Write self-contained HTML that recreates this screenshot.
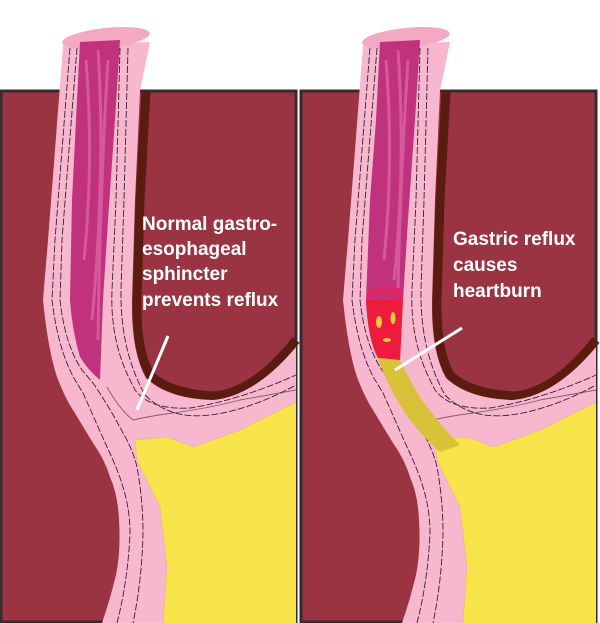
<!DOCTYPE html>
<html><head><style>
html,body{margin:0;padding:0;background:#fff;}
svg{display:block}
.t{font-family:"Liberation Sans",Arial,sans-serif;font-weight:bold;font-size:19px;fill:#fff;}
</style></head><body>
<svg width="600" height="623" viewBox="0 0 600 623" xmlns="http://www.w3.org/2000/svg">
<defs>
<g id="panel">
  <rect x="1" y="91" width="295" height="531" fill="#9b3442" stroke="#3a2a2a" stroke-width="3"/>
  <!-- yellow stomach -->
  <path d="M135,440 L167,437 L193,447 L213,440 L240,430 L296,402 L296,623 L163,623 L167,567 L163,533 L160,507 L150,487 L137,460 Z" fill="#f7e34a"/>
  <!-- brown lining -->
  <path d="M146,91 L140,200 L137,300 Q136,350 150,375 Q170,394 215,396 Q255,392 296,340" fill="none" stroke="#5a1c10" stroke-width="9"/>
  <!-- pink wall -->
  <path d="M63,45 L55,150 L48,240 L43,300 Q48,350 57,377 Q65,398 73,410 L93,443 Q105,460 110,477 Q118,495 119,520 Q121,550 116,575 Q110,600 102,623 L163,623 L167,567 L163,533 L160,507 L150,487 L137,460 L135,440 L167,437 L193,447 L213,440 L240,430 L296,402 L296,347 Q255,396 213,400 Q168,399 146,378 Q131,352 132,300 L135,200 L140,91 L150,42 Z" fill="#f7b8cf"/>
  <!-- top rim -->
  <ellipse cx="106" cy="38" rx="44" ry="10" fill="#f3a8c4" transform="rotate(-6 106 38)"/>
  <!-- dashed layer lines -->
  <g fill="none" stroke="#3a2030" stroke-width="0.9" stroke-dasharray="7 2">
    <path d="M70,48 L62,150 L55,240 L52,300 Q58,350 75,380 L83,393 Q95,420 107,447 Q118,470 123,487 Q130,510 130,533 Q128,580 117,623"/>
    <path d="M77,48 L69,150 L62,240 L60,300 Q65,345 82,370 L93,383 Q110,408 123,433 Q133,450 137,467 Q143,500 143,533 Q142,580 133,623"/>
    <path d="M128,48 L124,200 L121,290 Q120,350 145,395 Q170,420 210,415 Q250,410 296,385"/>
    <path d="M120,48 L116,200 L112,290 Q110,340 130,380 L135,390 Q150,410 190,408 Q240,400 296,375"/>
    <path d="M107,387 Q120,410 133,420 Q150,416 173,413 Q210,408 240,400 L296,390" stroke-dasharray="none" opacity="0.6"/>
  </g>
</g>
</defs>

<use href="#panel" x="0" y="0"/>
<use href="#panel" x="300" y="0"/>

<!-- left lumen -->
<path d="M80,42 L120,40 L115,120 L108,220 L103,300 L100,380 Q88,370 80,357 Q72,330 70,300 L72,200 L76,120 Z" fill="#c0327c"/>
<path d="M86,60 Q94,160 84,260 M98,50 Q106,170 92,320 M108,60 Q100,190 98,340" fill="none" stroke="#e06aa8" stroke-width="3" opacity="0.7"/>
<line x1="168" y1="336" x2="137" y2="410" stroke="#fff" stroke-width="3"/>
<text class="t" x="142" y="230">Normal gastro-</text>
<text class="t" x="142" y="255">esophageal</text>
<text class="t" x="142" y="280">sphincter</text>
<text class="t" x="142" y="306">prevents reflux</text>

<!-- right lumen -->
<path d="M380,42 L420,40 L415,120 L408,220 L403,300 L400,360 L378,358 Q368,340 366,300 L370,200 L376,120 Z" fill="#c0327c"/>
<path d="M386,60 Q394,160 384,260 M398,50 Q406,170 394,280 M408,60 Q400,190 398,290" fill="none" stroke="#e06aa8" stroke-width="3" opacity="0.7"/>
<path d="M366,300 L403,300 L400,360 L378,358 Q368,340 366,300 Z" fill="#ee1c3c"/>
<path d="M367,300 Q380,290 395,300 L403,300 L403,290 Q385,280 368,292 Z" fill="#d8286a"/>
<ellipse cx="379" cy="322" rx="3" ry="6" fill="#e8c840"/>
<ellipse cx="393" cy="318" rx="2.5" ry="6" fill="#e8c840"/>
<ellipse cx="387" cy="340" rx="4" ry="2" fill="#e8c840"/>
<!-- yellow reflux -->
<path d="M378,358 L400,360 Q412,385 422,400 Q440,425 460,445 L440,452 Q415,430 400,405 Q385,380 378,358 Z" fill="#d8c23a"/>
<line x1="462" y1="328" x2="395" y2="370" stroke="#fff" stroke-width="3"/>
<text class="t" x="453" y="245">Gastric reflux</text>
<text class="t" x="453" y="271">causes</text>
<text class="t" x="453" y="297">heartburn</text>
</svg>
</body></html>
